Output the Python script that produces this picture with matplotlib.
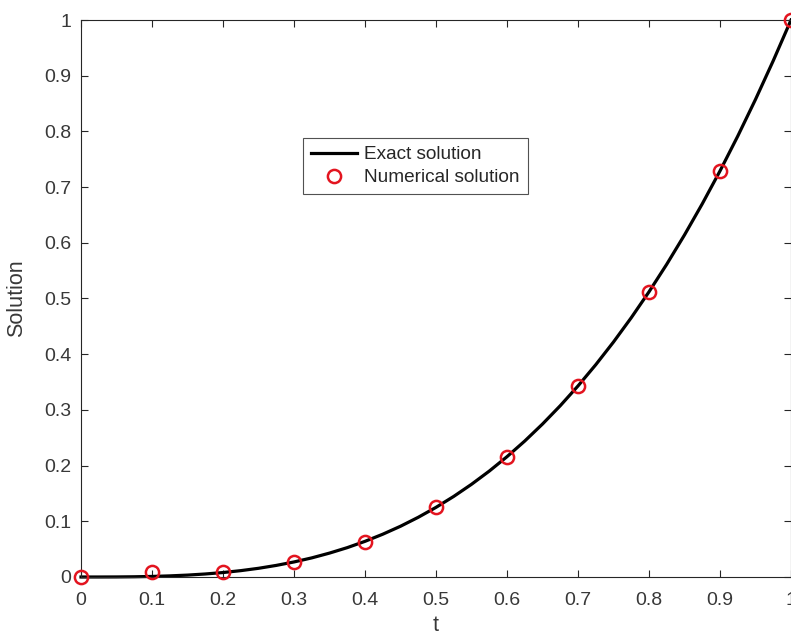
import matplotlib.pyplot as plt

plt.rcParams['font.family'] = ['Liberation Sans', 'DejaVu Sans']

# exact solution, every 0.025
t_exact = [0.0, 0.025, 0.05, 0.075, 0.1, 0.125, 0.15, 0.175, 0.2, 0.225,
           0.25, 0.275, 0.3, 0.325, 0.35, 0.375, 0.4, 0.425, 0.45, 0.475,
           0.5, 0.525, 0.55, 0.575, 0.6, 0.625, 0.65, 0.675, 0.7, 0.725,
           0.75, 0.775, 0.8, 0.825, 0.85, 0.875, 0.9, 0.925, 0.95, 0.975, 1.0]
u_exact = [0.0, 0.0, 0.0001, 0.0004, 0.001, 0.002, 0.0034, 0.0054, 0.008,
           0.0114, 0.0156, 0.0208, 0.027, 0.0343, 0.0429, 0.0527, 0.064,
           0.0768, 0.0911, 0.1072, 0.125, 0.1447, 0.1664, 0.1901, 0.216,
           0.2441, 0.2746, 0.3075, 0.343, 0.3811, 0.4219, 0.4655, 0.512,
           0.5615, 0.6141, 0.6699, 0.729, 0.7915, 0.8574, 0.9269, 1.0]

# numerical solution markers
t_num = [0.0, 0.1, 0.2, 0.3, 0.4, 0.5, 0.6, 0.7, 0.8, 0.9, 1.0]
u_num = [0.0, 0.009, 0.009, 0.027, 0.062, 0.125, 0.216, 0.343, 0.512, 0.729, 1.0]

xticks = [0, 0.1, 0.2, 0.3, 0.4, 0.5, 0.6, 0.7, 0.8, 0.9, 1]
xtick_labels = ['0', '0.1', '0.2', '0.3', '0.4', '0.5', '0.6', '0.7', '0.8', '0.9', '1']
yticks = [0, 0.1, 0.2, 0.3, 0.4, 0.5, 0.6, 0.7, 0.8, 0.9, 1]
ytick_labels = ['0', '0.1', '0.2', '0.3', '0.4', '0.5', '0.6', '0.7', '0.8', '0.9', '1']

fig = plt.figure(figsize=(7.91, 6.37), dpi=100)
ax = fig.add_axes([0.1024, 0.0942, 0.8976, 0.8744])

ax.plot(t_exact, u_exact, color='black', linewidth=2.3, label='Exact solution',
        clip_on=False, zorder=2)
ax.plot(t_num, u_num, linestyle='none', marker='o', markersize=9.5,
        markerfacecolor='none', markeredgecolor='#e3141f', markeredgewidth=1.8,
        label='Numerical solution', clip_on=False, zorder=3)

ax.set_xlim(0, 1)
ax.set_ylim(0, 1)
ax.set_xticks(xticks)
ax.set_xticklabels(xtick_labels)
ax.set_yticks(yticks)
ax.set_yticklabels(ytick_labels)

ax.tick_params(direction='in', length=5, width=0.8, color='#262626',
               labelcolor='#383838', labelsize=14, top=True, right=True)
ax.tick_params(axis='x', pad=11)
ax.tick_params(axis='y', pad=7)
for s in ax.spines.values():
    s.set_linewidth(0.8)
    s.set_color('#262626')

ax.set_xlabel('t', fontsize=15.5, color='#383838')
ax.set_ylabel('Solution', fontsize=15.5, color='#383838')
ax.xaxis.set_label_coords(0.5, -0.068)
ax.yaxis.set_label_coords(-0.076, 0.5)

leg = ax.legend(loc='upper left', bbox_to_anchor=(0.3127, 0.788), fontsize=13.7,
                frameon=True, fancybox=False, borderpad=0.42, labelspacing=0.3,
                handlelength=2.4, handletextpad=0.4, borderaxespad=0)
leg.get_frame().set_edgecolor('#262626')
leg.get_frame().set_linewidth(0.8)
for txt in leg.get_texts():
    txt.set_color('#262626')

fig.savefig('out.png', dpi=100)
